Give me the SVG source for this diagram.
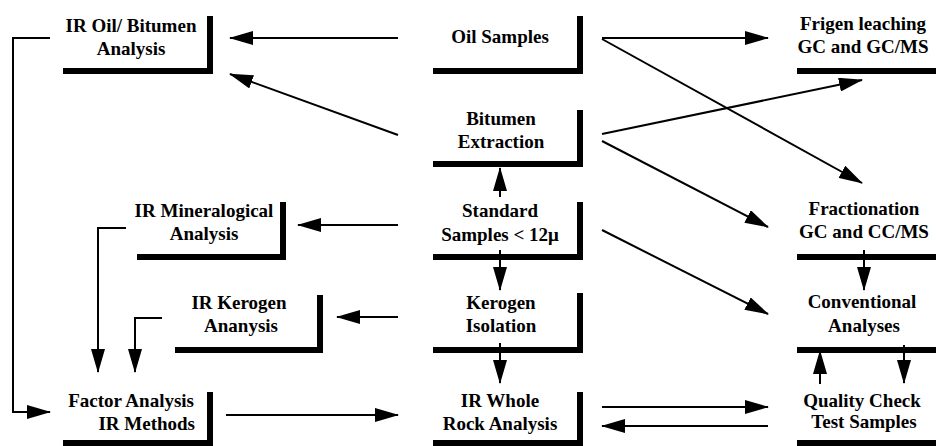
<svg xmlns="http://www.w3.org/2000/svg" width="936" height="446" viewBox="0 0 936 446">
<style>
.bar{fill:none;stroke:#000;stroke-width:6;stroke-linejoin:miter;stroke-linecap:butt}
.t{font-family:'Liberation Serif','DejaVu Serif',serif;font-weight:bold;font-size:19px;fill:#000;text-anchor:middle}
.e{text-anchor:end}
.c{fill:none;stroke:#000;stroke-width:2}
.a{marker-end:url(#ah)}
</style>
<defs>
<marker id="ah" markerWidth="24" markerHeight="14" refX="23" refY="7" orient="auto" markerUnits="userSpaceOnUse">
<path d="M0,0 L24,7 L0,14 z" fill="#000"/>
</marker>
</defs>
<rect width="936" height="446" fill="#fff"/>
<g id="connectors">
<path class="c a" d="M398,38 H230"/>
<path class="c a" d="M398,135 L230,74"/>
<path class="c a" d="M602,38 H768"/>
<path class="c a" d="M602,39 L862,183"/>
<path class="c a" d="M602,134 L862,80"/>
<path class="c a" d="M602,141 L768,227"/>
<path class="c a" d="M602,230 L768,314"/>
<path class="c a" d="M398,225 H298"/>
<path class="c a" d="M500,197 V168"/>
<path class="c a" d="M500,250 V290"/>
<path class="c a" d="M398,317 H337"/>
<path class="c a" d="M500,343 V383"/>
<path class="c a" d="M226,415 H398"/>
<path class="c a" d="M602,407 H768"/>
<path class="c a" d="M768,426 H602"/>
<path class="c a" d="M864,250 V290"/>
<path class="c a" d="M820,384 V351"/>
<path class="c a" d="M904,345 V383"/>
<path class="c a" d="M50,38 H13 V412 H50"/>
<path class="c a" d="M126,228 H98 V372"/>
<path class="c a" d="M162,318 H135 V372"/>
</g>
<g id="ir-oil-bitumen">
<path class="bar" d="M63,71 H210 V16"/>
<text class="t" x="131" y="32">IR Oil/ Bitumen</text>
<text class="t" x="131" y="55">Analysis</text>
</g>
<g id="oil-samples">
<path class="bar" d="M433,71 H580 V16"/>
<text class="t" x="500" y="43">Oil Samples</text>
</g>
<g id="frigen">
<path class="bar" d="M797,71 H936"/>
<text class="t" x="863" y="30">Frigen leaching</text>
<text class="t" x="863" y="53">GC and GC/MS</text>
</g>
<g id="bitumen-extraction">
<path class="bar" d="M433,164 H580 V110"/>
<text class="t" x="501" y="125">Bitumen</text>
<text class="t" x="501" y="148">Extraction</text>
</g>
<g id="ir-mineralogical">
<path class="bar" d="M137,257 H283 V202"/>
<text class="t" x="204" y="217">IR Mineralogical</text>
<text class="t" x="204" y="240">Analysis</text>
</g>
<g id="standard-samples">
<path class="bar" d="M433,257 H580 V202"/>
<text class="t" x="500" y="217">Standard</text>
<text class="t" x="500" y="241">Samples &lt; 12μ</text>
</g>
<g id="fractionation">
<path class="bar" d="M797,257 H936"/>
<text class="t" x="864" y="215">Fractionation</text>
<text class="t" x="864" y="238">GC and CC/MS</text>
</g>
<g id="ir-kerogen">
<path class="bar" d="M175,350 H320 V295"/>
<text class="t" x="239" y="309">IR Kerogen</text>
<text class="t" x="241" y="332">Ananysis</text>
</g>
<g id="kerogen-isolation">
<path class="bar" d="M433,350 H580 V293"/>
<text class="t" x="501" y="309">Kerogen</text>
<text class="t" x="501" y="332">Isolation</text>
</g>
<g id="conventional">
<path class="bar" d="M797,350 H936"/>
<text class="t" x="862" y="308">Conventional</text>
<text class="t" x="864" y="332">Analyses</text>
</g>
<g id="factor-analysis">
<path class="bar" d="M63,443 H210 V392"/>
<text class="t e" x="194" y="407">Factor Analysis</text>
<text class="t e" x="195" y="430">IR Methods</text>
</g>
<g id="ir-whole-rock">
<path class="bar" d="M433,443 H580 V392"/>
<text class="t" x="500" y="407">IR Whole</text>
<text class="t" x="500" y="430">Rock Analysis</text>
</g>
<g id="quality-check">
<path class="bar" d="M797,443 H936"/>
<text class="t" x="862" y="407">Quality Check</text>
<text class="t" x="864" y="428">Test Samples</text>
</g>
</svg>
